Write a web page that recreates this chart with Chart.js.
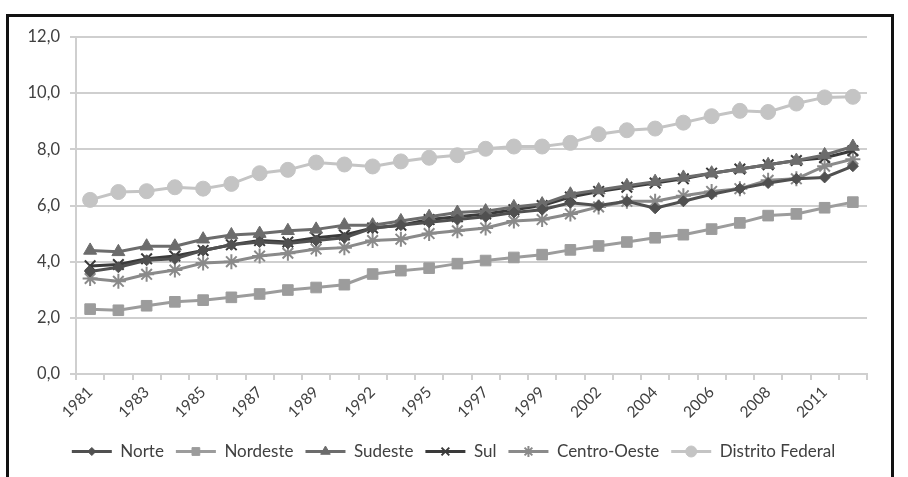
<!DOCTYPE html>
<html>
<head>
<meta charset="utf-8">
<script src="https://cdn.jsdelivr.net/npm/chart.js@4.4.1/dist/chart.umd.min.js"></script>
<style>
  html, body { margin: 0; padding: 0; background: #fff; overflow: hidden; }
  #frame { position: absolute; left: 6px; top: 14px; width: 888px; height: 500px;
           border: 3px solid #111; box-sizing: border-box; }
  #wrap { position: absolute; left: 0; top: 0; width: 908px; height: 477px; }
</style>
</head>
<body>
<div id="frame"></div>
<div id="wrap"><canvas id="chart" width="908" height="477"></canvas></div>
<script>
// PNAD years (no survey in 1991, 1994, 2000, 2010)
const years = ["1981","1982","1983","1984","1985","1986","1987","1988","1989","1990",
  "1992","1993","1995","1996","1997","1998","1999","2001","2002","2003",
  "2004","2005","2006","2007","2008","2009","2011","2012"];

const norte = [3.65,3.8,4.05,4.1,4.4,4.6,4.7,4.65,4.75,4.85,5.2,5.3,5.4,5.5,5.6,5.75,5.85,6.1,6.0,6.15,5.9,6.15,6.4,6.6,6.8,6.95,7.0,7.4];
const nordeste = [2.31,2.27,2.43,2.57,2.63,2.73,2.85,2.99,3.08,3.18,3.56,3.68,3.77,3.93,4.04,4.15,4.25,4.42,4.56,4.7,4.85,4.96,5.16,5.38,5.64,5.7,5.92,6.12];
const sudeste = [4.4,4.35,4.55,4.55,4.8,4.95,5.0,5.1,5.15,5.3,5.3,5.45,5.6,5.75,5.8,5.95,6.05,6.4,6.55,6.7,6.85,7.0,7.15,7.3,7.45,7.6,7.8,8.1];
const sul = [3.85,3.9,4.1,4.2,4.4,4.6,4.75,4.7,4.85,4.95,5.2,5.3,5.5,5.6,5.7,5.85,6.0,6.3,6.5,6.65,6.8,6.95,7.15,7.3,7.45,7.6,7.7,7.95];
const centroOeste = [3.4,3.3,3.55,3.7,3.95,4.0,4.2,4.3,4.45,4.5,4.75,4.8,5.0,5.1,5.2,5.45,5.5,5.7,5.95,6.15,6.15,6.35,6.5,6.6,6.9,6.95,7.4,7.65];
const distritoFederal = [6.2,6.48,6.51,6.65,6.6,6.77,7.15,7.27,7.53,7.46,7.39,7.57,7.7,7.79,8.02,8.1,8.1,8.23,8.54,8.68,8.74,8.95,9.18,9.37,9.33,9.63,9.85,9.87];

const yTicks = [0, 2, 4, 6, 8, 10, 12];

const FONT = "Lato, 'Open Sans', sans-serif";

function series(label, data, color, style, radius, bw) {
  return {
    label, data,
    borderColor: color, backgroundColor: color,
    borderWidth: 3,
    pointStyle: style, pointRadius: radius,
    pointBorderColor: color, pointBackgroundColor: color,
    pointBorderWidth: bw,
    tension: 0
  };
}

const datasets = [
  series("Norte", norte, "#505050", "rectRot", 5.5, 1),
  series("Nordeste", nordeste, "#9c9c9c", "rect", 7.5, 1),
  series("Sudeste", sudeste, "#6c6c6c", "triangle", 7.5, 1),
  series("Sul", sul, "#3a3a3a", "crossRot", 7.5, 2),
  series("Centro-Oeste", centroOeste, "#8a8a8a", "star", 7.5, 2),
  series("Distrito Federal", distritoFederal, "#c4c4c4", "circle", 7.5, 1)
];

// nudge the legend right so it centres under the framed area, like the original
const legendShift = {
  id: "legendShift",
  afterLayout(chart) {
    if (!chart.legend) return;
    chart.legend.left += 20;
    chart.legend.right += 20;
  }
};

// draw the series marker in the middle of each legend line
const legendMarkers = {
  id: "legendMarkers",
  afterDraw(chart) {
    const legend = chart.legend;
    if (!legend || !legend.legendHitBoxes) return;
    const ctx = chart.ctx;
    const bw = legend.options.labels.boxWidth;
    legend.legendHitBoxes.forEach((box, i) => {
      const ds = chart.data.datasets[i];
      const x = box.left + bw / 2;
      const y = box.top + box.height / 2;
      ctx.save();
      ctx.fillStyle = ds.pointBackgroundColor;
      ctx.strokeStyle = ds.pointBorderColor;
      ctx.lineWidth = ds.pointBorderWidth;
      Chart.helpers.drawPoint(ctx, {
        pointStyle: ds.pointStyle,
        radius: Math.max(4, ds.pointRadius - 2),
        borderWidth: ds.pointBorderWidth,
        rotation: 0
      }, x, y);
      ctx.restore();
    });
  }
};

new Chart(document.getElementById("chart"), {
  type: "line",
  data: { labels: years, datasets },
  plugins: [legendShift, legendMarkers],
  options: {
    responsive: false,
    animation: false,
    layout: { padding: { top: 37, right: 41, bottom: 7, left: 0 } },
    plugins: {
      tooltip: { enabled: false },
      legend: {
        position: "bottom",
        labels: {
          boxWidth: 40, boxHeight: 3,
          color: "#404040",
          font: { family: FONT, size: 17 },
          padding: 12,
          generateLabels(chart) {
            return chart.data.datasets.map((ds, i) => ({
              text: ds.label, fillStyle: ds.borderColor, strokeStyle: ds.borderColor,
              lineWidth: 0, datasetIndex: i, fontColor: "#404040"
            }));
          }
        }
      }
    },
    scales: {
      x: {
        offset: true,
        afterFit(s) { s.height = 57; },
        grid: { offset: true, drawOnChartArea: false, drawTicks: true, tickLength: 6, color: "#cfcfcf", lineWidth: 2 },
        border: { color: "#cfcfcf", width: 2 },
        ticks: {
          autoSkip: false, maxRotation: 45, minRotation: 45,
          color: "#404040", font: { family: FONT, size: 15.5 },
          callback(v, i) { return i % 2 === 0 ? years[i] : ""; }
        }
      },
      y: {
        min: 0, max: 12,
        afterFit(s) { s.width = 76; },
        afterBuildTicks(s) { s.ticks = yTicks.map(v => ({ value: v })); },
        grid: { color: "#cfcfcf", lineWidth: 2, drawTicks: true, tickLength: 6 },
        border: { color: "#cfcfcf", width: 2 },
        ticks: {
          color: "#404040", font: { family: FONT, size: 16.5 }, padding: 10,
          callback(v) { return v.toFixed(1).replace(".", ","); }
        }
      }
    }
  }
});
</script>
</body>
</html>
